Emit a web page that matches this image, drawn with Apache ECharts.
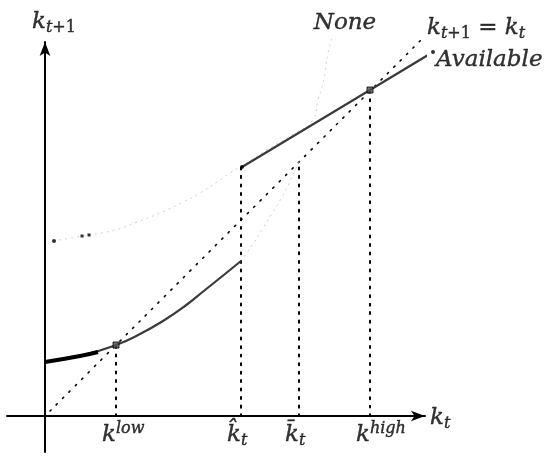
<!DOCTYPE html>
<html>
<head>
<meta charset="utf-8">
<script src="https://cdn.jsdelivr.net/npm/echarts@6/dist/echarts.min.js"></script>
<style>
  html, body { margin: 0; padding: 0; background: #fff; }
  #chart { width: 550px; height: 457px; }
</style>
</head>
<body>
<div id="chart"></div>
<script>
// k_t on the x axis, k_{t+1} on the y axis (units)
const kLow = 71, kHat = 196, kBar = 254, kHigh = 325;
const tickValues = [kLow, kHat, kBar, kHigh];
const tickNames = ['low', 'hat', 'bar', 'high'];
const guideTops = [71, 249, 254, 326];

const diagonal = [[5, 5], [380, 380]];
const lowerBranch = [[0, 54], [35, 60], [71, 71], [95, 82], [118, 95], [140, 110], [160, 126], [180, 142], [196, 155]];
const lowerThick = [[0, 54], [35, 60], [53, 64]];
const upperBranch = [[197, 249], [325, 326], [388, 364]];
const lowerGhost = [[196, 155], [208, 172], [218, 188], [228, 204], [238, 221], [246, 237], [254, 254]];
const upperGhost = [[9, 175], [37, 180], [44, 181], [70, 186], [92, 194], [115, 203], [138, 214], [155, 223], [172, 234],
  [185, 243], [200, 252], [225, 268], [250, 283], [268, 296], [273, 316], [277, 329], [280, 344], [283, 363], [287, 378]];
const ghostDots = [[37, 180], [44, 181]];
const endDots = [[9, 175], [197, 249], [388, 364]];
const steadyStates = [[kLow, 71], [kHigh, 326]];

const FONT = 'DejaVu Serif';
const ink = { color: '#000', textBorderColor: '#000', textBorderWidth: 0.4 };
const rich = {
  k: Object.assign({ fontFamily: FONT, fontStyle: 'italic', fontSize: 23, lineHeight: 28 }, ink),
  rm: Object.assign({ fontFamily: FONT, fontSize: 23, lineHeight: 28 }, ink),
  sub: Object.assign({ fontFamily: FONT, fontStyle: 'italic', fontSize: 16, lineHeight: 18, verticalAlign: 'bottom' }, ink),
  subrm: Object.assign({ fontFamily: FONT, fontSize: 16, lineHeight: 18, verticalAlign: 'bottom' }, ink),
  sup: Object.assign({ fontFamily: FONT, fontStyle: 'italic', fontSize: 16, lineHeight: 18, verticalAlign: 'top' }, ink)
};

const tickText = {
  low: '{k|k}{sup|low}',
  hat: '{k|k\u0302}{sub|t}',
  bar: '{k|k\u0304}{sub|t}',
  high: '{k|k}{sup|high}'
};

const chart = echarts.init(document.getElementById('chart'));

function solid(data, width, color) {
  return { type: 'line', data: data, showSymbol: false, symbol: 'none', clip: false, smooth: true,
    lineStyle: { color: color, width: width }, z: 3 };
}
function dotted(data, width, color, dash) {
  return { type: 'line', data: data, showSymbol: false, symbol: 'none', clip: false, smooth: true,
    lineStyle: { color: color, width: width, type: dash, cap: 'round' }, z: 2 };
}
function note(point, text, label) {
  return { value: point, label: Object.assign({ show: true, formatter: text, rich: rich, color: '#000' }, label) };
}

const series = [
  dotted(diagonal, 1.6, '#000', [1.5, 7.5]),
  dotted(upperGhost, 1, '#c8c8c8', [1, 5]),
  dotted(lowerGhost, 1, '#c8c8c8', [1, 5]),
  solid(lowerBranch, 2.2, '#3a3a3a'),
  solid(lowerThick, 4, '#000'),
  solid(upperBranch, 2.2, '#3a3a3a')
];

tickValues.forEach(function (x, i) {
  series.push(dotted([[x, 0], [x, guideTops[i]]], 2, '#000', [2, 6.5]));
});

series.push({
  type: 'scatter', data: steadyStates, symbol: 'rect', symbolSize: 6, clip: false, z: 5,
  itemStyle: { color: '#555', borderColor: '#000', borderWidth: 1 }
});
series.push({
  type: 'scatter', data: endDots, symbol: 'circle', symbolSize: 4, clip: false, z: 5,
  itemStyle: { color: '#000' }
});
series.push({
  type: 'scatter', data: ghostDots, symbol: 'rect', symbolSize: 3, clip: false, z: 5,
  itemStyle: { color: '#000' }
});

// text annotations, anchored on data points
const notes = tickValues.map(function (x, i) {
  return note([x, 0], tickText[tickNames[i]], { position: 'bottom', distance: 5, align: 'left', offset: [-14, 0] });
});
notes.push(note([380, 0], '{k|k}{sub|t}', { position: 'right', distance: 5, offset: [0, 2] }));
notes.push(note([0, 374], '{k|k}{sub|t}{subrm|+1}', { position: 'top', distance: 6, align: 'left', offset: [-13, 0] }));
notes.push(note(upperGhost[upperGhost.length - 1], '{k|None}', { position: 'top', distance: 1, offset: [13, 0] }));
notes.push(note(diagonal[1], '{k|k}{sub|t}{subrm|+1}{rm| = }{k|k}{sub|t}', { position: 'right', distance: 2, offset: [0, -8] }));
notes.push(note(upperBranch[upperBranch.length - 1], '{k|Available}', { position: 'right', distance: 3, offset: [0, 8] }));

series.push({ type: 'scatter', data: notes, symbolSize: 0, clip: false, z: 6, silent: true });

const axisBase = {
  type: 'value',
  axisTick: { show: false },
  axisLabel: { show: false },
  splitLine: { show: false },
  axisLine: { onZero: true, symbol: ['none', 'arrow'], symbolSize: [8, 14], lineStyle: { color: '#000', width: 2 } }
};

chart.setOption({
  animation: false,
  backgroundColor: '#fff',
  grid: { left: 7, right: 125, top: 42, bottom: 5 },
  xAxis: Object.assign({}, axisBase, { min: -38, max: 380 }),
  yAxis: Object.assign({}, axisBase, { min: -36, max: 374 }),
  series: series
});
</script>
</body>
</html>
